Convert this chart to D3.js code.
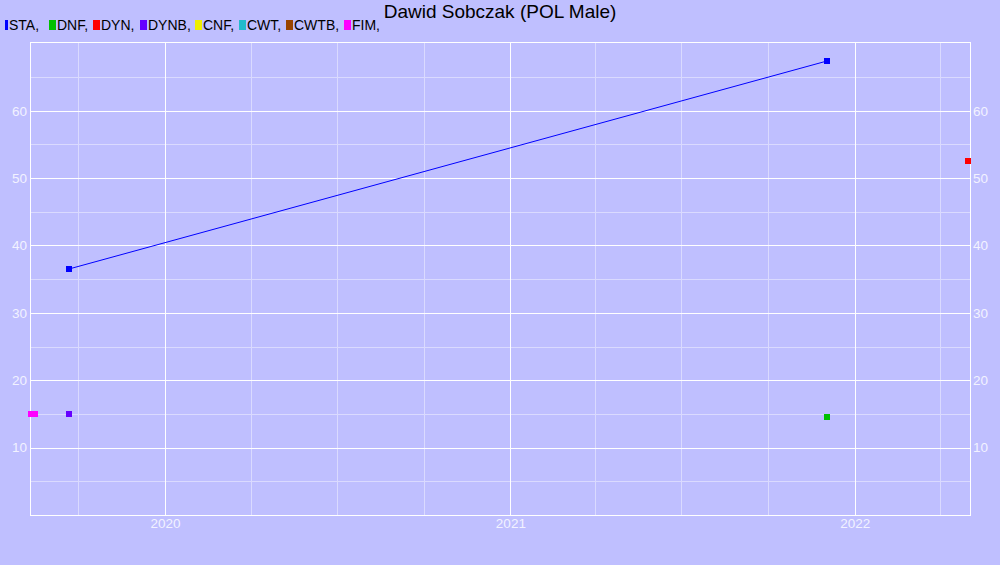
<!DOCTYPE html>
<html><head><meta charset="utf-8">
<script src="https://cdn.jsdelivr.net/npm/d3@7"></script>
<style>
html,body{margin:0;padding:0;background:#bfbfff;}
svg{display:block;font-family:Arial,"Liberation Sans",sans-serif;}
</style></head>
<body>
<svg id="chart" width="1000" height="565"></svg>
<script>
const title = "Dawid Sobczak (POL Male)";
const legendNames = ["STA","DNF","DYN","DYNB","CNF","CWT","CWTB","FIM"];
const legendColors = ["#0000ff","#00c000","#ff0000","#6600ff","#eeee00","#22bbcc","#994400","#ff00ff"];
const xTickLabels = ["2020","2021","2022"];
const yTickValues = [10,20,30,40,50,60];
const xDomain = ["2019-08-11","2022-05-03"];
const yDomain = [0,70.2];

const staDates = ["2019-09-21","2021-12-03"];
const staValues = [36.5,67.4];
const dnfDates = ["2021-12-03"];
const dnfValues = [14.5];
const dynDates = ["2022-05-01"];
const dynValues = [52.5];
const dynbDates = ["2019-09-21"];
const dynbValues = [15];
const fimDates = ["2019-08-12","2019-08-16"];
const fimValues = [15,15];

// layout (legend swatch positions)
const legendX = [5,49,93,140,195,239,286,344];

const parse = d3.timeParse("%Y-%m-%d");
const svg = d3.select("#chart");
const L=30,R=970,T=42,B=515;
const x = d3.scaleTime().domain(xDomain.map(parse)).range([L,R]);
const y = d3.scaleLinear().domain(yDomain).range([B,T]);

svg.append("rect").attr("width",1000).attr("height",565).attr("fill","#bfbfff");

// minor grid
const g = svg.append("g");
const quarters = d3.timeMonth.every(3).range(x.domain()[0], x.domain()[1]).filter(d=>d.getMonth()!==0);
g.selectAll(".qx").data(quarters).join("line")
  .attr("x1",d=>Math.round(x(d))+0.5).attr("x2",d=>Math.round(x(d))+0.5)
  .attr("y1",T).attr("y2",B).attr("stroke","#dadaff").attr("stroke-width",1);
const minorY = d3.range(5,70,10);
g.selectAll(".my").data(minorY).join("line")
  .attr("x1",L).attr("x2",R)
  .attr("y1",d=>Math.round(y(d))+0.5).attr("y2",d=>Math.round(y(d))+0.5)
  .attr("stroke","#dadaff").attr("stroke-width",1);
// major grid
const years = xTickLabels.map(s=>parse(s+"-01-01"));
g.selectAll(".yx").data(years).join("line")
  .attr("x1",d=>Math.round(x(d))+0.5).attr("x2",d=>Math.round(x(d))+0.5)
  .attr("y1",T).attr("y2",B).attr("stroke","#ffffff");
g.selectAll(".yy").data(yTickValues).join("line")
  .attr("x1",L).attr("x2",R)
  .attr("y1",d=>Math.round(y(d))+0.5).attr("y2",d=>Math.round(y(d))+0.5)
  .attr("stroke","#ffffff");
// frame
svg.append("rect").attr("x",L+0.5).attr("y",T+0.5).attr("width",R-L).attr("height",B-T)
  .attr("fill","none").attr("stroke","#ffffff");

// axes using d3 axes
const axL = d3.axisLeft(y).tickValues(yTickValues).tickSize(0).tickPadding(3);
const axR = d3.axisRight(y).tickValues(yTickValues).tickSize(0).tickPadding(3);
const axB = d3.axisBottom(x).tickValues(years).tickFormat(d3.timeFormat("%Y")).tickSize(0).tickPadding(3);
function styleAxis(sel){
  sel.select(".domain").remove();
  sel.selectAll("text").attr("fill","#f2f2ff").style("font-size","13.5px").style("font-family","Arial,'Liberation Sans',sans-serif");
}
svg.append("g").attr("transform",`translate(${L},0)`).call(axL).call(styleAxis);
svg.append("g").attr("transform",`translate(${R},0)`).call(axR).call(styleAxis);
svg.append("g").attr("transform",`translate(0,${B})`).call(axB).call(styleAxis);

// STA line
const sta = staDates.map((d,i)=>({d:parse(d),v:staValues[i]}));
svg.append("path").datum(sta).attr("fill","none").attr("stroke","#0000ff").attr("stroke-width",1)
  .attr("d",d3.line().x(p=>x(p.d)).y(p=>y(p.v)));

function markers(dates,vals,color){
  const data = dates.map((d,i)=>({d:parse(d),v:vals[i]}));
  svg.append("g").selectAll("rect").data(data).join("rect")
    .attr("x",p=>Math.round(x(p.d))-3).attr("y",p=>Math.round(y(p.v))-3)
    .attr("width",6).attr("height",6).attr("fill",color);
}
markers(staDates,staValues,legendColors[0]);
markers(dnfDates,dnfValues,legendColors[1]);
markers(dynDates,dynValues,legendColors[2]);
markers(dynbDates,dynbValues,legendColors[3]);
markers(fimDates,fimValues,legendColors[7]);

// title
svg.append("text").attr("x",500).attr("y",18).attr("text-anchor","middle")
  .style("font-size","19px").attr("fill","#000").text(title);

// legend
const lg = svg.append("g");
legendNames.forEach((n,i)=>{
  const w = i===0?3:7;
  const lx = legendX[i];
  lg.append("rect").attr("x",lx).attr("y",20).attr("width",w).attr("height",10).attr("fill",legendColors[i]);
  lg.append("text").attr("x",lx+w+1).attr("y",30).style("font-size","14px").attr("fill","#000").text(n+",");
});
</script>
</body></html>
